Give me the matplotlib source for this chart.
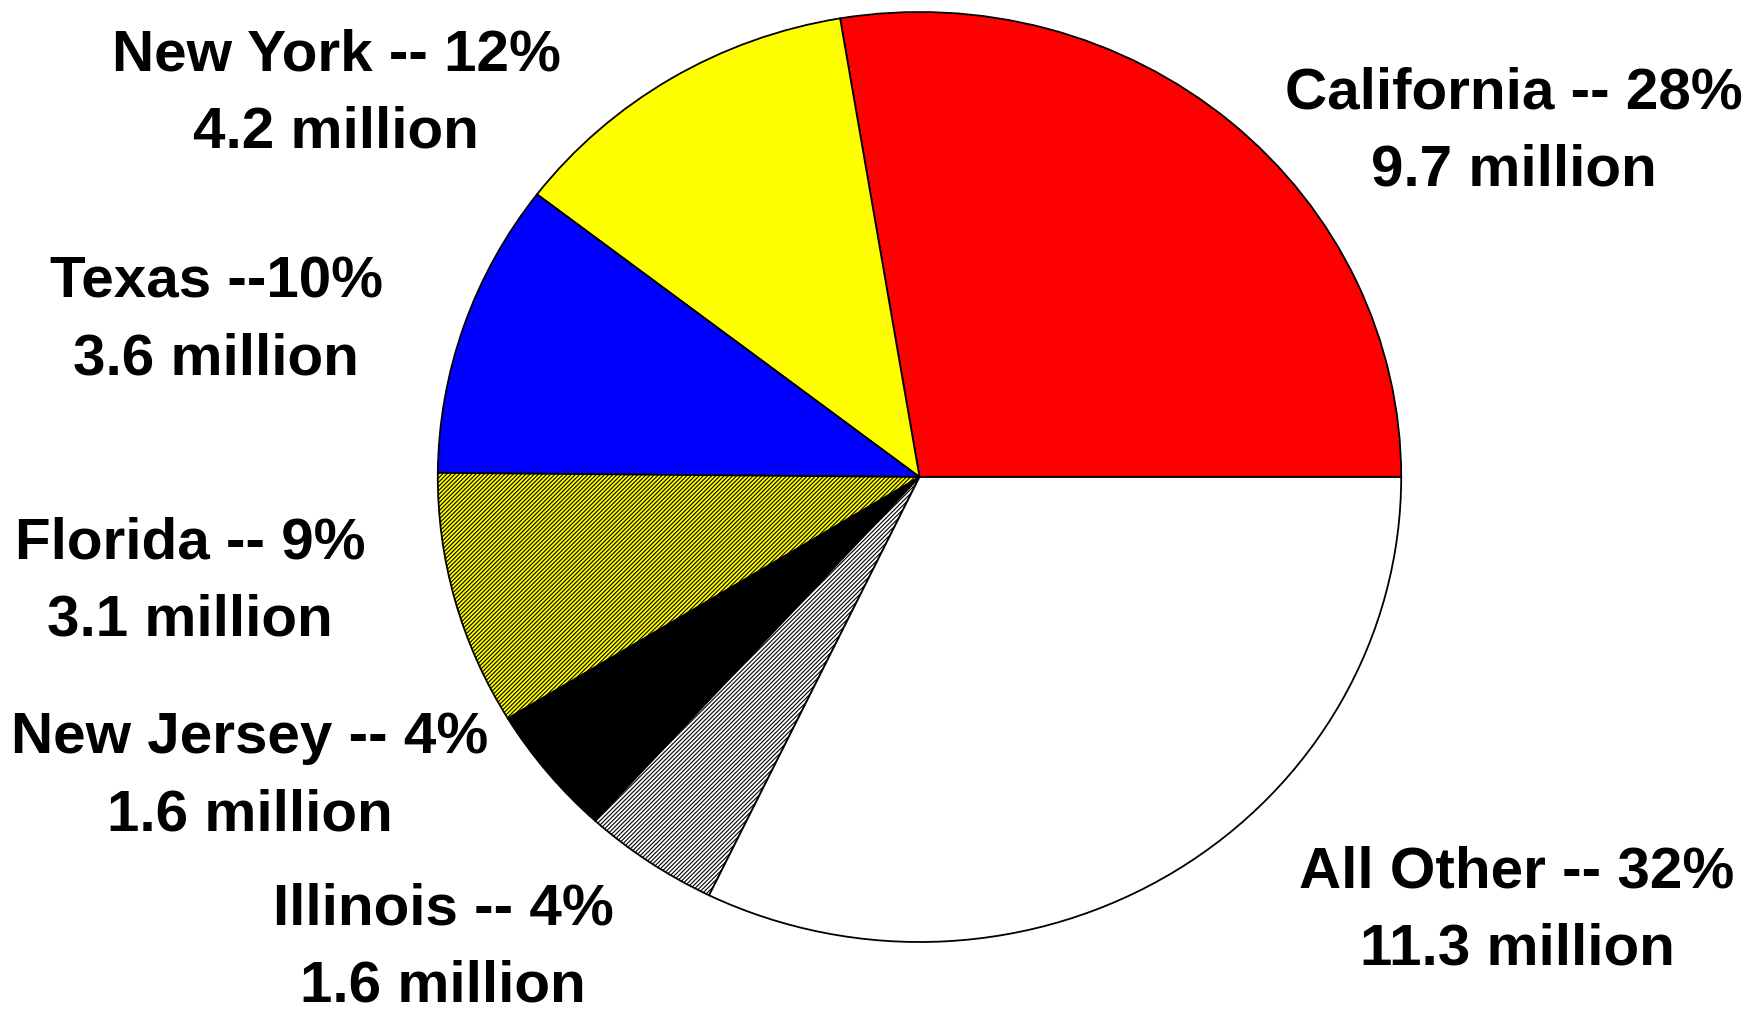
import matplotlib.pyplot as plt

# share of population by state (millions)
states = ["California", "New York", "Texas", "Florida", "New Jersey", "Illinois", "All Other"]
millions = [9.7, 4.2, 3.6, 3.1, 1.6, 1.6, 11.3]
percents = [28, 12, 10, 9, 4, 4, 32]
colors = ["#ff0000", "#ffff00", "#0000ff", "#ffff00", "#000000", "#ffffff", "#ffffff"]
hatches = [None, None, None, "////////", None, "////////", None]

# label text and centre of each label block (figure pixels)
labels = ["California -- 28%\n9.7 million", "New York -- 12%\n4.2 million",
          "Texas --10%\n3.6 million", "Florida -- 9%\n3.1 million",
          "New Jersey -- 4%\n1.6 million", "Illinois -- 4%\n1.6 million",
          "All Other -- 32%\n11.3 million"]
label_px = [(1514, 132), (336, 94), (216, 321), (190, 582),
            (250, 777), (443, 948), (1517, 911)]

plt.rcParams['hatch.linewidth'] = 0.8

W, H = 1755, 1011
fig = plt.figure(figsize=(W / 100, H / 100), dpi=100)
ax = fig.add_axes([0, 0, 1, 1])

wedges, _ = ax.pie(millions, colors=colors, startangle=0, counterclock=True,
                   wedgeprops=dict(edgecolor="black", linewidth=1.3))
for w, h in zip(wedges, hatches):
    if h:
        w.set_hatch(h)

# elliptical pie: centre at (919.5, 477) px, radii 481.7 x 465 px
cx, cy, rx, ry = 919.5, 477.0, 481.7, 465.0
ax.set_aspect('auto')
ax.set_xlim(-cx / rx, (W - cx) / rx)
ax.set_ylim(-(H - cy) / ry, cy / ry)
ax.axis('off')

for txt, (px, py) in zip(labels, label_px):
    fig.text(px / W, 1 - py / H, txt, ha='center', va='center',
             fontsize=42, fontweight='bold', family='Liberation Sans',
             linespacing=1.56)

fig.savefig("out.png", dpi=100)
